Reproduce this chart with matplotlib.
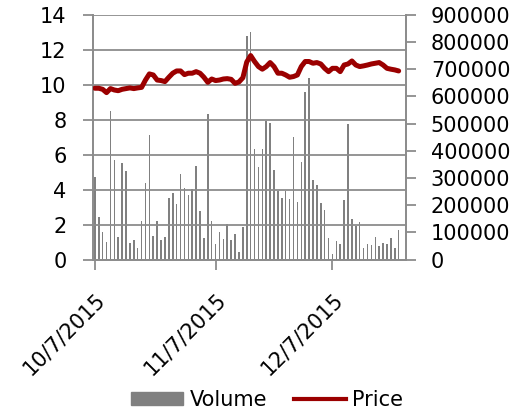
import pandas as pd
import matplotlib
matplotlib.use("Agg")
import matplotlib.pyplot as plt
import matplotlib.dates as mdates
from matplotlib.patches import Patch
from matplotlib.lines import Line2D

# daily data starting 10/7/2015
start_date = "2015-10-07"

volume = [
    305000, 155000, 100000, 66000, 548000, 366000, 84000, 356000, 325000, 61000,
    71000, 44000, 143000, 282000, 459000, 87000, 143000, 71000, 84000, 228000,
    246000, 204000, 313000, 265000, 237000, 258000, 343000, 179000, 78000, 535000,
    141000, 59000, 100000, 76000, 131000, 71000, 94000, 27000, 118000, 823000,
    836000, 405000, 340000, 408000, 510000, 503000, 330000, 253000, 227000, 252000,
    222000, 451000, 213000, 357000, 615000, 668000, 291000, 273000, 208000, 183000,
    80000, 19000, 67000, 57000, 219000, 497000, 150000, 125000, 139000, 42000,
    58000, 53000, 82000, 49000, 60000, 59000, 81000, 42000, 108000,
]

price = [
    9.80, 9.80, 9.74, 9.55, 9.78, 9.70, 9.66, 9.74, 9.78, 9.82,
    9.78, 9.82, 9.85, 10.27, 10.62, 10.56, 10.27, 10.24, 10.18, 10.43,
    10.66, 10.79, 10.79, 10.58, 10.66, 10.66, 10.75, 10.66, 10.43, 10.14,
    10.33, 10.24, 10.27, 10.33, 10.35, 10.31, 10.08, 10.16, 10.40, 11.30,
    11.67, 11.33, 11.04, 10.89, 11.04, 11.27, 11.04, 10.66, 10.66, 10.56,
    10.43, 10.47, 10.56, 11.04, 11.33, 11.33, 11.23, 11.27, 11.19, 10.94,
    10.75, 10.94, 10.94, 10.75, 11.13, 11.19, 11.36, 11.13, 11.04, 11.08,
    11.13, 11.19, 11.23, 11.27, 11.13, 10.94, 10.89, 10.85, 10.79,
]

tick_dates = ["2015-10-07", "2015-11-07", "2015-12-07"]
tick_labels = ["10/7/2015", "11/7/2015", "12/7/2015"]

dates = pd.date_range(start_date, periods=len(volume), freq="D")
x = mdates.date2num(dates)

grid_col = "#8c8c8c"
bar_col = "#808080"
line_col = "#9b0000"
fs = 15

fig = plt.figure(figsize=(5.19, 4.12), dpi=100)
ax = fig.add_axes([0.179, 0.37, 0.603, 0.594])
ax2 = ax.twinx()

# bars on the volume axis (right), price line on the left axis, drawn on top
ax2.bar(x, volume, width=0.4, color=bar_col, zorder=2)
ax2.set_ylim(0, 900000)
ax2.set_yticks(range(0, 900001, 100000))

ax.set_zorder(ax2.get_zorder() + 1)
ax.patch.set_visible(False)
ax.plot(x, price, color=line_col, lw=3.6, solid_capstyle="round", zorder=3)
ax.set_ylim(0, 14)
ax.set_yticks(range(0, 15, 2))
ax.grid(axis="y", color=grid_col, lw=1.3)
ax.set_axisbelow(True)

ax.set_xlim(x[0] - 0.5, x[0] + 79.85)
ax.set_xticks(mdates.date2num(pd.to_datetime(tick_dates)))
ax.set_xticklabels(tick_labels, rotation=45, ha="right", rotation_mode="anchor")

for a in (ax, ax2):
    a.spines["top"].set_visible(False)
    for side in ("left", "right", "bottom"):
        a.spines[side].set_color(grid_col)
        a.spines[side].set_linewidth(1.3)
    a.tick_params(colors=grid_col, labelcolor="black", labelsize=fs,
                  length=7, width=1.3, direction="out")
ax.tick_params(axis="y", pad=12)
ax2.tick_params(axis="y", pad=11)
ax.tick_params(axis="x", pad=14)

fig.legend(handles=[Patch(color=bar_col, label="Volume"),
                    Line2D([], [], color=line_col, lw=3, label="Price")],
           loc="lower center", bbox_to_anchor=(0.515, -0.04), ncol=2,
           frameon=False, fontsize=fs, handlelength=2.5, handleheight=0.6,
           columnspacing=1.3, handletextpad=0.3)

fig.savefig("out.png", dpi=100)
